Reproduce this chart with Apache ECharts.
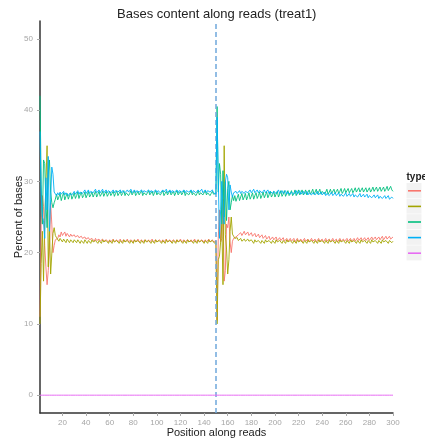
<!DOCTYPE html>
<html>
<head>
<meta charset="utf-8">
<script src="https://cdn.jsdelivr.net/npm/echarts@6/dist/echarts.min.js"></script>
<style>html,body{margin:0;padding:0;background:#fff;}#c{width:425px;height:439px;}</style>
</head>
<body>
<div id="c"></div>
<script>
// Percent of each base at positions 1..300 (read 1: 1-150, read 2: 151-300)
var baseA = [
11.0,24.0,28.0,26.5,21.0,18.0,15.5,17.5,20.5,27.0,
24.0,20.0,21.0,21.8,21.7,22.0,22.5,22.2,22.9,22.4,
22.6,22.9,22.3,22.7,22.5,22.2,22.6,22.3,22.1,22.5,
22.2,22.0,22.4,22.1,21.9,22.3,22.0,21.9,22.2,21.9,
21.8,22.1,21.8,21.7,22.0,21.8,21.6,22.0,21.7,21.6,
21.9,21.6,21.6,21.9,21.6,21.5,21.8,21.6,21.5,21.8,
21.5,21.6,21.9,21.5,21.6,21.8,21.5,21.6,21.9,21.5,
21.6,21.8,21.5,21.6,21.9,21.5,21.5,21.8,21.6,21.5,
21.8,21.5,21.6,21.9,21.5,21.6,21.8,21.5,21.5,21.8,
21.6,21.5,21.8,21.5,21.6,21.9,21.5,21.6,21.8,21.5,
21.5,21.8,21.6,21.5,21.8,21.5,21.6,21.9,21.5,21.6,
21.8,21.5,21.5,21.8,21.6,21.5,21.8,21.5,21.6,21.9,
21.5,21.6,21.8,21.5,21.5,21.8,21.6,21.5,21.8,21.5,
21.6,21.9,21.5,21.6,21.8,21.5,21.5,21.8,21.6,21.5,
21.8,21.5,21.6,21.9,21.5,21.6,21.8,21.5,21.6,21.7,
10.5,22.0,26.0,21.5,22.0,27.5,16.0,17.5,24.0,23.5,
25.0,21.5,20.0,21.6,22.0,21.8,22.2,22.0,22.5,22.3,
22.8,22.4,22.6,23.0,22.5,22.7,22.9,22.4,22.6,22.8,
22.3,22.5,22.7,22.2,22.4,22.6,22.1,22.3,22.5,22.0,
22.2,22.4,21.9,22.1,22.3,21.8,22.0,22.2,21.8,21.9,
22.2,21.7,21.9,22.1,21.7,21.8,22.1,21.6,21.8,22.0,
21.6,21.7,22.0,21.6,21.7,22.0,21.5,21.7,22.0,21.6,
21.7,21.9,21.5,21.7,22.0,21.6,21.7,21.9,21.5,21.7,
22.0,21.6,21.7,21.9,21.5,21.7,22.0,21.6,21.7,21.9,
21.5,21.7,22.0,21.6,21.7,21.9,21.5,21.7,22.0,21.6,
21.7,21.9,21.5,21.7,22.0,21.6,21.7,21.9,21.6,21.7,
22.0,21.6,21.7,22.0,21.6,21.8,22.0,21.6,21.8,22.1,
21.7,21.8,22.1,21.7,21.8,22.1,21.7,21.9,22.1,21.7,
21.9,22.2,21.8,21.9,22.2,21.8,21.9,22.2,21.8,22.0,
22.3,21.8,22.0,22.3,21.9,22.0,22.3,21.9,22.1,22.2
];
var baseT = [
10.0,18.5,23.0,16.0,24.5,24.5,35.0,18.0,23.5,17.0,
17.0,22.7,23.5,22.4,22.1,22.2,21.6,22.0,21.8,21.5,
21.9,21.7,21.4,21.9,21.7,21.4,21.8,21.7,21.4,21.8,
21.6,21.4,21.8,21.6,21.3,21.7,21.6,21.3,21.8,21.6,
21.3,21.7,21.5,21.3,21.8,21.5,21.3,21.7,21.6,21.3,
21.7,21.5,21.3,21.8,21.5,21.3,21.7,21.6,21.3,21.7,
21.5,21.3,21.8,21.5,21.3,21.7,21.6,21.3,21.7,21.5,
21.3,21.8,21.5,21.3,21.7,21.6,21.3,21.7,21.5,21.3,
21.8,21.5,21.3,21.7,21.6,21.3,21.7,21.5,21.3,21.8,
21.5,21.3,21.7,21.6,21.3,21.7,21.5,21.3,21.8,21.5,
21.3,21.7,21.6,21.3,21.7,21.5,21.3,21.8,21.5,21.3,
21.7,21.6,21.3,21.7,21.5,21.3,21.8,21.5,21.3,21.7,
21.6,21.3,21.7,21.5,21.3,21.8,21.5,21.3,21.7,21.6,
21.3,21.7,21.5,21.3,21.8,21.5,21.3,21.7,21.6,21.3,
21.7,21.5,21.3,21.8,21.5,21.3,21.7,21.6,21.3,21.6,
10.0,19.0,19.5,21.5,24.0,15.5,35.0,22.5,20.5,17.0,
19.0,23.0,25.0,22.6,22.3,22.0,21.8,22.1,21.7,21.6,
22.0,21.6,21.5,21.9,21.6,21.4,21.9,21.6,21.4,21.8,
21.6,21.3,21.8,21.5,21.3,21.7,21.6,21.3,21.7,21.5,
21.3,21.8,21.5,21.3,21.7,21.6,21.3,21.7,21.5,21.3,
21.8,21.5,21.3,21.7,21.6,21.3,21.7,21.5,21.3,21.8,
21.5,21.3,21.7,21.6,21.3,21.7,21.5,21.3,21.8,21.5,
21.3,21.7,21.6,21.3,21.7,21.5,21.3,21.8,21.5,21.3,
21.7,21.6,21.3,21.7,21.5,21.3,21.8,21.5,21.3,21.7,
21.6,21.3,21.7,21.5,21.3,21.8,21.5,21.3,21.7,21.6,
21.3,21.7,21.5,21.3,21.8,21.5,21.3,21.7,21.6,21.3,
21.7,21.5,21.3,21.8,21.5,21.3,21.7,21.6,21.3,21.7,
21.5,21.3,21.8,21.5,21.3,21.7,21.6,21.3,21.7,21.5,
21.3,21.8,21.5,21.3,21.7,21.6,21.3,21.7,21.5,21.3,
21.8,21.5,21.3,21.7,21.6,21.3,21.7,21.5,21.4,21.6
];
var baseG = [
42.0,29.5,24.0,33.0,32.5,27.0,23.5,31.0,33.0,28.5,
27.0,26.3,27.0,27.5,28.2,27.4,27.8,28.3,27.3,27.9,
28.4,27.4,27.9,28.3,27.5,28.0,28.4,27.5,27.9,28.4,
27.6,28.0,28.5,27.6,28.1,28.5,27.7,28.0,28.5,27.7,
28.1,28.6,27.8,28.1,28.5,27.8,28.2,28.6,27.8,28.2,
28.6,27.9,28.2,28.6,27.9,28.3,28.6,27.9,28.2,28.6,
28.0,28.3,28.6,27.9,28.3,28.7,28.0,28.3,28.6,28.0,
28.3,28.7,28.0,28.4,28.6,28.0,28.3,28.7,28.1,28.4,
28.7,28.0,28.3,28.6,28.1,28.4,28.7,28.0,28.4,28.6,
28.1,28.4,28.7,28.1,28.3,28.6,28.0,28.4,28.7,28.1,
28.4,28.6,28.1,28.4,28.7,28.0,28.3,28.6,28.1,28.4,
28.7,28.1,28.3,28.6,28.0,28.4,28.7,28.1,28.3,28.6,
28.1,28.4,28.7,28.0,28.4,28.6,28.1,28.3,28.7,28.1,
28.4,28.6,28.0,28.3,28.7,28.1,28.4,28.6,28.1,28.3,
28.7,28.1,28.4,28.6,28.0,28.3,28.6,28.2,28.4,28.3,
40.5,28.5,32.5,31.0,24.0,31.5,25.0,30.0,24.5,29.0,
30.0,26.0,27.0,28.0,27.3,28.0,27.2,27.7,28.2,27.3,
27.8,28.3,27.4,27.8,28.3,27.4,27.9,28.4,27.5,27.9,
28.4,27.5,28.0,28.4,27.6,28.0,28.5,27.6,28.0,28.5,
27.7,28.1,28.5,27.7,28.1,28.6,27.8,28.1,28.6,27.8,
28.2,28.6,27.8,28.2,28.7,27.9,28.2,28.7,27.9,28.3,
28.7,28.0,28.3,28.7,28.0,28.3,28.8,28.0,28.4,28.8,
28.1,28.4,28.8,28.1,28.4,28.8,28.1,28.5,28.8,28.2,
28.5,28.9,28.2,28.5,28.9,28.2,28.5,28.9,28.2,28.6,
28.8,28.2,28.5,28.9,28.2,28.5,28.9,28.3,28.5,28.9,
28.3,28.6,28.9,28.3,28.6,29.0,28.3,28.6,29.0,28.4,
28.6,29.0,28.4,28.7,29.0,28.4,28.7,29.1,28.5,28.7,
29.1,28.5,28.7,29.1,28.5,28.8,29.1,28.5,28.8,29.1,
28.5,28.8,29.2,28.6,28.8,29.2,28.6,28.9,29.2,28.6,
28.9,29.2,28.6,28.9,29.3,28.7,28.9,29.3,28.8,28.6
];
var baseC = [
37.0,28.0,25.0,24.5,22.0,30.5,26.0,33.5,23.0,27.5,
32.0,31.0,28.5,28.3,28.0,28.4,28.1,28.5,28.2,28.4,
28.6,28.1,28.4,28.2,28.0,28.3,28.5,28.1,28.3,28.6,
28.2,28.4,28.7,28.2,28.5,28.7,28.3,28.5,28.8,28.3,
28.5,28.8,28.3,28.6,28.8,28.4,28.6,28.9,28.4,28.6,
28.8,28.4,28.6,28.9,28.4,28.6,28.8,28.4,28.7,28.9,
28.4,28.6,28.8,28.4,28.7,28.9,28.5,28.6,28.8,28.4,
28.7,28.9,28.4,28.6,28.8,28.5,28.7,28.9,28.4,28.6,
28.8,28.4,28.7,28.9,28.5,28.6,28.8,28.4,28.7,28.9,
28.5,28.6,28.8,28.4,28.7,28.9,28.5,28.6,28.8,28.4,
28.7,28.9,28.4,28.6,28.8,28.5,28.7,28.9,28.4,28.6,
28.8,28.4,28.7,28.9,28.5,28.6,28.8,28.4,28.7,28.9,
28.5,28.6,28.8,28.4,28.7,28.9,28.5,28.6,28.8,28.4,
28.7,28.9,28.4,28.6,28.8,28.5,28.7,28.9,28.4,28.6,
28.8,28.4,28.7,28.9,28.5,28.6,28.8,28.4,28.6,28.2,
39.0,30.5,22.0,26.0,30.0,25.5,24.0,30.0,31.0,30.5,
26.0,29.5,28.5,27.8,28.4,28.2,28.6,28.3,28.5,28.7,
28.3,28.6,28.8,28.3,28.6,28.8,28.4,28.6,28.8,28.4,
28.6,28.9,28.4,28.6,28.8,28.4,28.7,28.9,28.4,28.6,
28.8,28.4,28.6,28.8,28.3,28.6,28.8,28.3,28.6,28.8,
28.3,28.5,28.8,28.3,28.5,28.7,28.3,28.5,28.7,28.2,
28.5,28.7,28.2,28.5,28.7,28.2,28.4,28.7,28.2,28.4,
28.7,28.2,28.4,28.6,28.2,28.4,28.6,28.1,28.4,28.6,
28.1,28.4,28.6,28.1,28.3,28.6,28.1,28.3,28.5,28.1,
28.3,28.5,28.0,28.3,28.5,28.0,28.2,28.5,28.0,28.2,
28.4,28.0,28.2,28.4,27.9,28.2,28.4,27.9,28.1,28.4,
27.9,28.1,28.3,27.9,28.1,28.3,27.8,28.1,28.3,27.8,
28.0,28.3,27.8,28.0,28.2,27.8,28.0,28.2,27.7,28.0,
28.2,27.7,27.9,28.1,27.7,27.9,28.1,27.6,27.9,28.1,
27.6,27.8,28.0,27.6,27.8,28.0,27.5,27.7,27.8,27.6
];
var baseN = [
0,0,0,0,0,0,0,0,0,0, 0,0,0,0,0,0,0,0,0,0, 0,0,0,0,0,0,0,0,0,0,
0,0,0,0,0,0,0,0,0,0, 0,0,0,0,0,0,0,0,0,0, 0,0,0,0,0,0,0,0,0,0,
0,0,0,0,0,0,0,0,0,0, 0,0,0,0,0,0,0,0,0,0, 0,0,0,0,0,0,0,0,0,0,
0,0,0,0,0,0,0,0,0,0, 0,0,0,0,0,0,0,0,0,0, 0,0,0,0,0,0,0,0,0,0,
0,0,0,0,0,0,0,0,0,0, 0,0,0,0,0,0,0,0,0,0, 0,0,0,0,0,0,0,0,0,0,
0,0,0,0,0,0,0,0,0,0, 0,0,0,0,0,0,0,0,0,0, 0,0,0,0,0,0,0,0,0,0,
0,0,0,0,0,0,0,0,0,0, 0,0,0,0,0,0,0,0,0,0, 0,0,0,0,0,0,0,0,0,0,
0,0,0,0,0,0,0,0,0,0, 0,0,0,0,0,0,0,0,0,0, 0,0,0,0,0,0,0,0,0,0,
0,0,0,0,0,0,0,0,0,0, 0,0,0,0,0,0,0,0,0,0, 0,0,0,0,0,0,0,0,0,0,
0,0,0,0,0,0,0,0,0,0, 0,0,0,0,0,0,0,0,0,0, 0,0,0,0,0,0,0,0,0,0
];
var seriesNames = ['A', 'T', 'G', 'C', 'N'];
var xTicks = [20,40,60,80,100,120,140,160,180,200,220,240,260,280,300];
var yTicks = [0,10,20,30,40,50];
var readBoundary = 150;

var colors = ['#F8766D', '#A3A500', '#00BF7D', '#00B0F6', '#E76BF3'];
var allData = [baseA, baseT, baseG, baseC, baseN];

function toPairs(arr) {
  return arr.map(function (v, i) { return [i + 1, v]; });
}

var series = allData.map(function (arr, k) {
  return {
    name: seriesNames[k],
    type: 'line',
    data: toPairs(arr),
    showSymbol: false,
    symbol: 'none',
    lineStyle: { width: 1, color: colors[k], opacity: k === 4 ? 1 : 0.9 },
    itemStyle: { color: colors[k] },
    z: 2 + k
  };
});
// boundary between read 1 and read 2
series.push({
  name: 'boundary',
  type: 'line',
  data: [],
  symbol: 'none',
  z: 10,
  markLine: {
    silent: true,
    symbol: ['none', 'none'],
    label: { show: false },
    lineStyle: { type: [5, 3], color: '#6FA8DC', width: 1.5, opacity: 1 },
    data: [{ xAxis: readBoundary, lineStyle: { type: [5, 3], color: '#6FA8DC', width: 1.5 } }]
  }
});

var chart = echarts.init(document.getElementById('c'), null, { renderer: 'canvas' });
var font = 'Liberation Sans, Arial, Helvetica, sans-serif';
var legendTop = 183;
var rowH = 15.6;
var graphics = [
  { type: 'text', left: 406.5, top: 172, z: 10,
    style: { text: 'type', fill: '#222', font: 'bold 10px ' + font } }
];
for (var i = 0; i < seriesNames.length; i++) {
  graphics.push({ type: 'rect', z: 0, shape: { x: 406.5, y: legendTop + i * rowH, width: 15, height: 15 },
    style: { fill: '#F2F2F2' } });
}

chart.setOption({
  animation: false,
  backgroundColor: '#ffffff',
  textStyle: { fontFamily: font },
  title: {
    text: 'Bases content along reads (treat1)',
    left: 117, top: 8,
    padding: 0,
    textStyle: { fontSize: 13, fontWeight: 'normal', color: '#222', fontFamily: font }
  },
  grid: { left: 40, right: 32, top: 21, bottom: 26, containLabel: false, outerBoundsMode: 'none' },
  legend: {
    orient: 'vertical',
    left: 408, top: legendTop + 1.8,
    padding: 0,
    itemWidth: 13, itemHeight: 1.6, itemGap: 3.6,
    icon: 'rect',
    data: seriesNames,
    textStyle: { fontSize: 10, lineHeight: 12, color: '#222' }
  },
  graphic: graphics,
  xAxis: {
    type: 'value', min: 1, max: 300,
    name: 'Position along reads', nameLocation: 'middle', nameGap: 14, nameMoveOverlap: false,
    nameTextStyle: { fontSize: 11, color: '#222', fontFamily: font },
    axisLine: { show: true, onZero: false, lineStyle: { color: '#333', width: 1.5 } },
    axisTick: { show: true, length: 3, customValues: xTicks, lineStyle: { color: '#aaa' } },
    axisLabel: { customValues: xTicks, fontSize: 8, color: '#a6a6a6', margin: 6 },
    splitLine: { show: false }
  },
  yAxis: {
    type: 'value', min: -2.5, max: 52.5,
    name: 'Percent of bases', nameLocation: 'middle', nameGap: 16, nameMoveOverlap: false,
    nameTextStyle: { fontSize: 11, color: '#222', fontFamily: font },
    axisLine: { show: true, onZero: false, lineStyle: { color: '#333', width: 1.5 } },
    axisTick: { show: true, length: 3, customValues: yTicks, lineStyle: { color: '#aaa' } },
    axisLabel: { customValues: yTicks, fontSize: 8, color: '#a6a6a6', margin: 7 },
    splitLine: { show: false }
  },
  series: series
});
</script>
</body>
</html>
